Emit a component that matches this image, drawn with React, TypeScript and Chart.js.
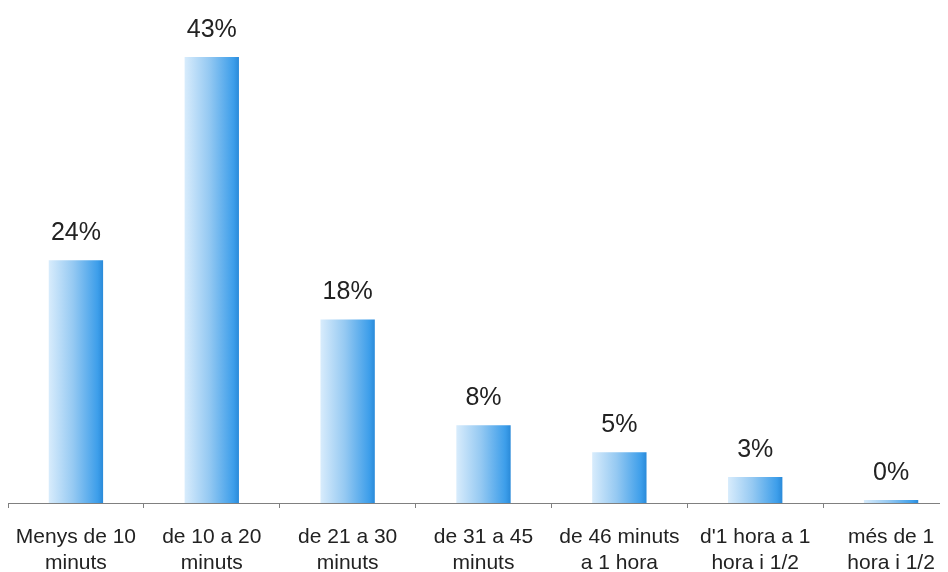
import { useEffect, useRef } from "react";
import { Chart, registerables } from "chart.js";

Chart.register(...registerables);

const categories: string[][] = [
  ["Menys de 10", "minuts"],
  ["de 10 a 20", "minuts"],
  ["de 21 a 30", "minuts"],
  ["de 31 a 45", "minuts"],
  ["de 46 minuts", "a 1 hora"],
  ["d'1 hora a 1", "hora i 1/2"],
  ["més de 1", "hora i 1/2"],
];
const values = [23.4, 43, 17.7, 7.5, 4.9, 2.5, 0.3];
const valueLabels = ["24%", "43%", "18%", "8%", "5%", "3%", "0%"];

const FONT = "'Liberation Sans', Arial, sans-serif";

const valueLabelPlugin = {
  id: "valueLabels",
  afterDatasetsDraw(chart: any) {
    const ctx = chart.ctx;
    const meta = chart.getDatasetMeta(0);
    ctx.save();
    ctx.font = `25px ${FONT}`;
    ctx.fillStyle = "#222222";
    ctx.textAlign = "center";
    ctx.textBaseline = "alphabetic";
    meta.data.forEach((bar: any, i: number) => {
      ctx.fillText(valueLabels[i], bar.x, bar.y - 20);
    });
    ctx.restore();
  },
};

export default function App() {
  const ref = useRef<HTMLCanvasElement | null>(null);

  useEffect(() => {
    if (!ref.current) return;
    const chart = new Chart(ref.current, {
      type: "bar",
      data: {
        labels: categories,
        datasets: [
          {
            data: values,
            borderWidth: 0,
            barPercentage: 0.4,
            categoryPercentage: 1,
            backgroundColor: (c: any) => {
              const ch = c.chart;
              const xs = ch.scales?.x;
              if (!xs || !ch.chartArea || c.dataIndex === undefined) return "#7bbcf0";
              const cx = xs.getPixelForValue(c.dataIndex);
              const w = (xs.width / values.length) * 0.4;
              const g = ch.ctx.createLinearGradient(cx - w / 2, 0, cx + w / 2, 0);
              g.addColorStop(0, "#d8ecfc");
              g.addColorStop(0.45, "#95c9f2");
              g.addColorStop(0.9, "#3d9eea");
              g.addColorStop(1, "#2a8ad9");
              return g;
            },
          },
        ],
      },
      options: {
        responsive: false,
        animation: false,
        layout: { padding: { top: 49, left: 0, right: 0, bottom: 0 } },
        plugins: {
          legend: { display: false },
          tooltip: { enabled: false },
        },
        scales: {
          y: { display: false, min: 0, max: 43 },
          x: {
            afterFit: (s: any) => {
              s.height = 75;
              s.paddingLeft = 0;
              s.paddingRight = 0;
            },
            border: { display: true, color: "#808080", width: 1 },
            grid: {
              display: true,
              offset: true,
              drawOnChartArea: false,
              drawTicks: true,
              tickLength: 5,
              color: "#808080",
            },
            ticks: {
              padding: 17,
              color: "#222222",
              maxRotation: 0,
              autoSkip: false,
              font: { family: FONT, size: 21, lineHeight: 1.2 },
            },
          },
        },
      },
      plugins: [valueLabelPlugin],
    });
    return () => chart.destroy();
  }, []);

  return (
    <div style={{ width: 940, height: 564, overflow: "hidden", position: "relative", background: "#ffffff" }}>
      <canvas ref={ref} width={951} height={570} style={{ display: "block", width: 951, height: 570 }} />
    </div>
  );
}
